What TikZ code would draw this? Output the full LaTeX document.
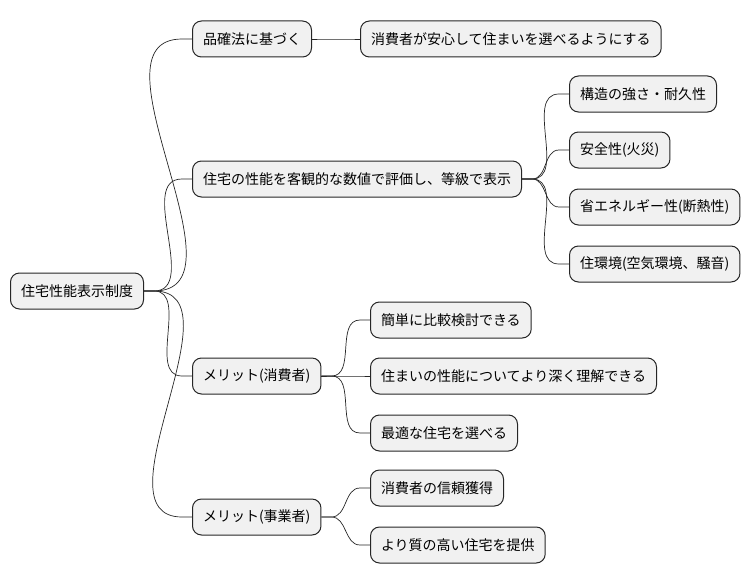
\documentclass[tikz,border=0pt]{standalone}
\usepackage{fontspec}
\setmainfont{Noto Sans CJK JP}

\begin{document}
\begin{tikzpicture}[x=1pt,y=-1pt,
    topic/.style={draw=black!85, line width=1pt, fill=black!5.5, rounded corners=9pt,
      anchor=west, inner xsep=10.5pt, inner ysep=0pt, minimum height=36pt,
      font=\fontsize{14}{16}\selectfont},
    branch/.style={black!85, line width=0.7pt}]
    \useasboundingbox (0,0) rectangle (751,583);
    % root
    \node[topic] (root) at (10,291) {住宅性能表示制度};
    % first level
    \node[topic] (law) at (192,39) {品確法に基づく};
    \node[topic] (grade) at (192,179) {住宅の性能を客観的な数値で評価し、等級で表示};
    \node[topic] (meritc) at (192,376) {メリット(消費者)};
    \node[topic] (meritb) at (192,517) {メリット(事業者)};
    % second level
    \node[topic] (safe) at (360,39) {消費者が安心して住まいを選べるようにする};
    \node[topic] (struct) at (569,94) {構造の強さ・耐久性};
    \node[topic] (fire) at (569,150) {安全性(火災)};
    \node[topic] (energy) at (569,207) {省エネルギー性(断熱性)};
    \node[topic] (living) at (569,264) {住環境(空気環境、騒音)};
    \node[topic] (compare) at (370,320) {簡単に比較検討できる};
    \node[topic] (understand) at (370,376) {住まいの性能についてより深く理解できる};
    \node[topic] (choose) at (370,433) {最適な住宅を選べる};
    \node[topic] (trust) at (370,488) {消費者の信頼獲得};
    \node[topic] (quality) at (370,545) {より質の高い住宅を提供};
    % connectors
    \foreach \a/\b in {root/law, root/grade, root/meritc, root/meritb,
                       law/safe,
                       grade/struct, grade/fire, grade/energy, grade/living,
                       meritc/compare, meritc/understand, meritc/choose,
                       meritb/trust, meritb/quality}
      \draw[branch] (\a.east) -- ++(10,0) to[out=0,in=180] ([xshift=-10pt]\b.west) -- (\b.west);
\end{tikzpicture}
\end{document}
